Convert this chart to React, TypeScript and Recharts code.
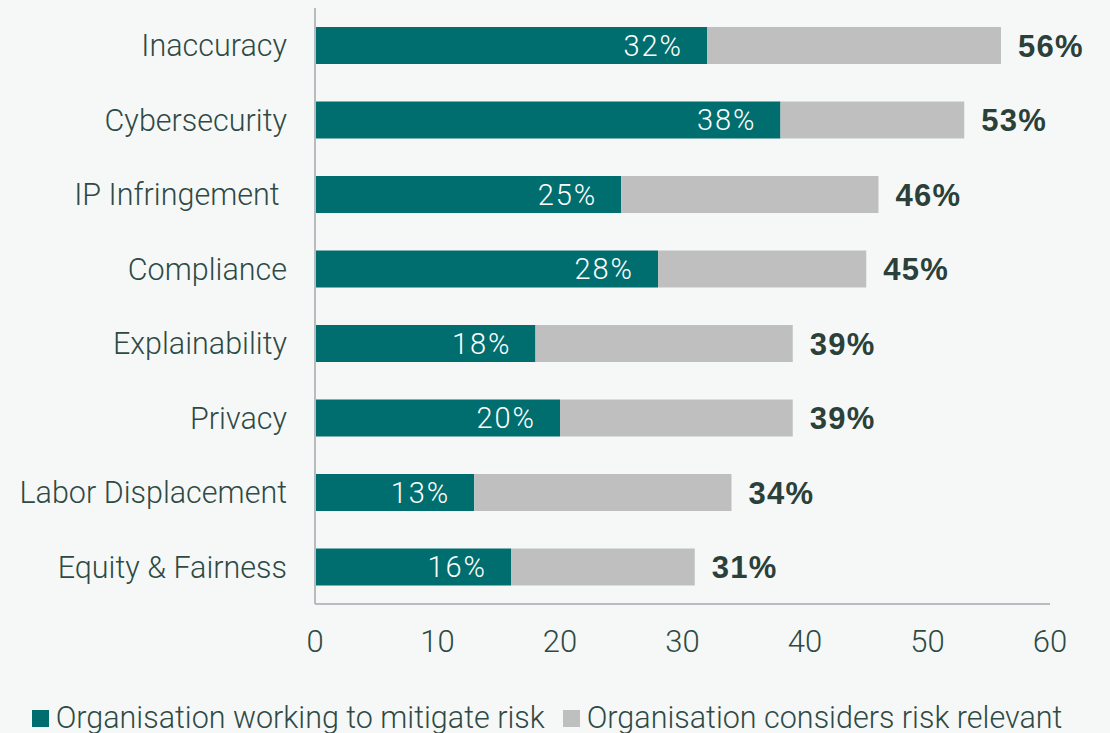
import React from 'react';
import { BarChart, Bar, XAxis, YAxis, LabelList, Legend } from 'recharts';

const categories = ['Inaccuracy', 'Cybersecurity', 'IP Infringement ', 'Compliance', 'Explainability', 'Privacy', 'Labor Displacement', 'Equity & Fairness'];
const mitigating = [32, 38, 25, 28, 18, 20, 13, 16];
const relevant = [56, 53, 46, 45, 39, 39, 34, 31];
const xTicks = [0, 10, 20, 30, 40, 50, 60];

const TEAL = '#006e6e';
const GRAY = '#bfbfbf';
const TEXT = '#2e4a44';
const FONT = 'Roboto, "Open Sans", sans-serif';
const BOLD_FONT = '"Liberation Sans", Arial, sans-serif';

const data = categories.map((name, i) => ({
  name,
  mitigating: mitigating[i],
  relevant: relevant[i],
  rest: relevant[i] - mitigating[i],
}));

const legendItems = [
  { label: 'Organisation working to mitigate risk', color: TEAL },
  { label: 'Organisation considers risk relevant', color: GRAY },
];

const renderLegend = () => (
  <div style={{ display: 'flex', justifyContent: 'center', alignItems: 'center', fontFamily: FONT, fontWeight: 300, fontSize: 30.5, lineHeight: '30px', height: 30, color: TEXT, whiteSpace: 'nowrap' }}>
    {legendItems.map((it, i) => (
      <div key={i} style={{ display: 'flex', alignItems: 'center', marginLeft: i === 0 ? 0 : 18 }}>
        <span style={{ display: 'inline-block', width: 17, height: 17, background: it.color, marginRight: 7 }} />
        <span>{it.label}</span>
      </div>
    ))}
  </div>
);

const pct = (v: any) => `${v}%`;

export default function App() {
  return (
    <div style={{ position: 'absolute', left: 0, top: 0, width: 1110, height: 733, background: '#f6f8f8' }}>
      <BarChart
        width={1110}
        height={733}
        data={data}
        layout="vertical"
        margin={{ top: 8, right: 60, bottom: 0, left: 0 }}
        barSize={37}
      >
        <XAxis
          type="number"
          domain={[0, 60]}
          ticks={xTicks}
          tickSize={0}
          tickMargin={26}
          height={99}
          axisLine={{ stroke: '#b8bcc0', strokeWidth: 2 }}
          tick={{ fill: TEXT, fontSize: 31, fontFamily: FONT, fontWeight: 300 }}
        />
        <YAxis
          type="category"
          dataKey="name"
          width={315}
          tickSize={0}
          tickMargin={28}
          axisLine={{ stroke: '#b8bcc0', strokeWidth: 2 }}
          tick={{ fill: TEXT, fontSize: 30.5, fontFamily: FONT, fontWeight: 300, style: { whiteSpace: 'pre' } }}
        />
        <Legend verticalAlign="bottom" content={renderLegend} wrapperStyle={{ left: 0, width: 1094 }} />
        <Bar dataKey="mitigating" stackId="a" fill={TEAL} isAnimationActive={false}>
          <LabelList
            dataKey="mitigating"
            position="insideRight"
            offset={24}
            formatter={pct}
            fill="#ffffff"
            style={{ fontSize: 29, fontFamily: FONT, fontWeight: 300, letterSpacing: 2 }}
          />
        </Bar>
        <Bar dataKey="rest" stackId="a" fill={GRAY} isAnimationActive={false}>
          <LabelList
            dataKey="relevant"
            position="right"
            offset={17}
            formatter={pct}
            fill="#2a4039"
            style={{ fontSize: 31, fontFamily: BOLD_FONT, fontWeight: 700, letterSpacing: 1.2 }}
          />
        </Bar>
      </BarChart>
    </div>
  );
}
